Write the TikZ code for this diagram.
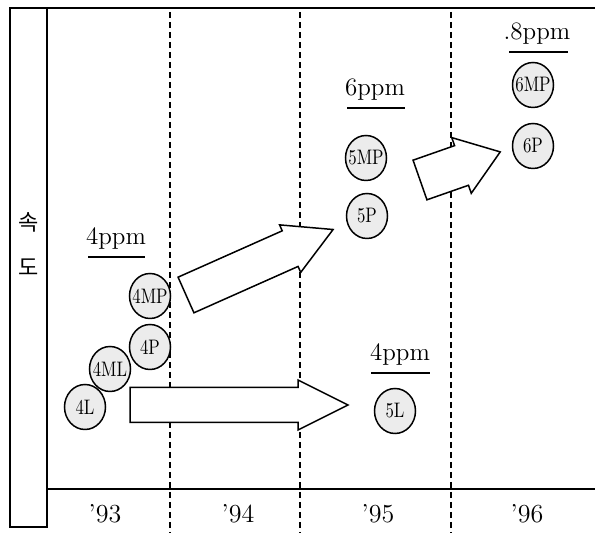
\documentclass[tikz,border=0pt]{standalone}
\usepackage{fontspec}
\usepackage{graphicx}
\newfontfamily\krfont{Noto Sans CJK KR}
\usetikzlibrary{shapes.geometric}
\newcommand\myblockarrow[7]{% x, y, angle, length, shaft half, head half, head length
  \begin{scope}[shift={(#1,#2)}, rotate=#3]
    \draw[blockarr] (0,-#5) -- ({#4-#7},-#5) -- ({#4-#7},-#6) -- (#4,0)
      -- ({#4-#7},#6) -- ({#4-#7},#5) -- (0,#5) -- cycle;
  \end{scope}}
\newcommand\chiptext[1]{\makebox[0pt]{\scalebox{0.8}[1]{#1}}}
\begin{document}
\begin{tikzpicture}[x=0.5pt,y=-0.5pt,
  chip/.style={ellipse, draw, line width=0.75pt, fill=gray!15, minimum width=20.5pt,
    minimum height=22.5pt, inner sep=0pt, font=\fontsize{10.5}{10.5}\selectfont},
  ppm/.style={anchor=base, inner sep=0pt, font=\fontsize{12.5}{12.5}\selectfont},
  uline/.style={line width=0.6pt},
  frame/.style={line width=0.75pt},
  vdash/.style={dash pattern=on 3pt off 2pt, line width=0.6pt},
  blockarr/.style={draw, line width=0.75pt, fill=white, line join=miter},
  year/.style={font=\fontsize{13}{13}\selectfont},
  kr/.style={font=\krfont\fontsize{11}{11}\selectfont}]
\path[use as bounding box] (0,0) rectangle (595,533);

% frame
\draw[frame] (595,8) -- (10,8) -- (10,527) -- (47,527) -- (47,8);
\draw[frame] (47,489) -- (595,489);

% year separators
\foreach \n/\x in {1/170, 2/300, 3/451} {
  \coordinate (t\n) at (\x,12);
  \coordinate (b\n) at (\x,533);
  \draw[vdash] (t\n) -- (b\n);
}

% axis label
\node[kr] (k1) at (29,222) {속};
\node[kr] (k2) at (29,267) {도};

% years
\node[year] (y93) at (105,514) {'93};
\node[year] (y94) at (238,514) {'94};
\node[year] (y95) at (378,514) {'95};
\node[year] (y96) at (527,514) {'96};

% block arrows
\myblockarrow{130}{405}{0}{218}{17.5}{25}{50}
\myblockarrow{186}{295}{24}{161}{19.5}{26}{47}
\myblockarrow{420}{180}{19.3}{85}{21}{29.5}{41}

% ppm labels with underlines
\node[ppm] (p4a) at (116,245) {4ppm};
\draw[uline] (88,257) -- (145,257);
\node[ppm] (p6) at (375,96) {6ppm};
\draw[uline] (347,108) -- (405,108);
\node[ppm] (p8) at (537,40) {.8ppm};
\draw[uline] (509,52) -- (568,52);
\node[ppm] (p4b) at (400,361) {4ppm};
\draw[uline] (371,373) -- (430,373);

% chips
\node[chip] (c4MP) at (150,296) {\chiptext{4MP}};
\node[chip] (c4P)  at (150,347) {\chiptext{4P}};
\node[chip] (c4ML) at (110,369) {\chiptext{4ML}};
\node[chip] (c4L)  at (85,407) {\chiptext{4L}};
\node[chip] (c5MP) at (366,158) {\chiptext{5MP}};
\node[chip] (c5P)  at (367,216) {\chiptext{5P}};
\node[chip] (c6MP) at (533,85) {\chiptext{6MP}};
\node[chip] (c6P)  at (533,146) {\chiptext{6P}};
\node[chip] (c5L)  at (395,411) {\chiptext{5L}};
\end{tikzpicture}
\end{document}
